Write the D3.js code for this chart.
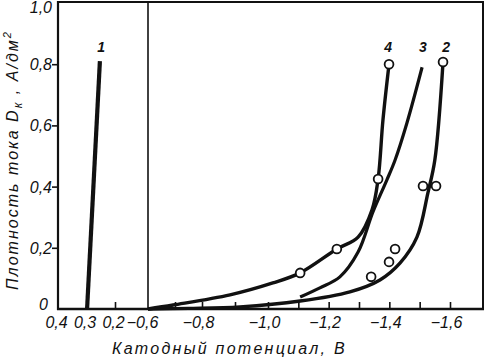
<!DOCTYPE html>
<html><head><meta charset="utf-8">
<script src="https://cdn.jsdelivr.net/npm/d3@7"></script>
<style>
html,body{margin:0;padding:0;background:#fff;}
svg{display:block;}
text{font-family:"Liberation Sans",Arial,sans-serif;font-style:italic;fill:#111;}
</style></head>
<body>
<svg id="c" width="486" height="361"></svg>
<script>
// ---- data ----
const yTicks = [0, 0.2, 0.4, 0.6, 0.8, 1.0];
const xLeftLabels = [0.4, 0.3, 0.2];
const xLeftTicks = [0.3, 0.2];
const xRightLabels = [-0.6, -0.8, -1.0, -1.2, -1.4, -1.6];
const xRightTicks = [-0.7, -0.8, -0.9, -1.0, -1.1, -1.2, -1.3, -1.4, -1.5, -1.6];

const curve1V = [0.298, 0.253];
const curve1J = [0.0, 0.81];

const curve2V = [-0.60, -0.75, -0.915, -1.106, -1.27, -1.369, -1.435, -1.491, -1.527, -1.55, -1.577];
const curve2J = [0.0, 0.002, 0.007, 0.026, 0.056, 0.095, 0.150, 0.235, 0.379, 0.487, 0.807];

const curve3V = [-1.106, -1.171, -1.237, -1.297, -1.346, -1.392, -1.419, -1.458, -1.508];
const curve3J = [0.039, 0.069, 0.105, 0.186, 0.317, 0.422, 0.487, 0.608, 0.79];

const curve4V = [-0.60, -0.693, -0.885, -1.016, -1.106, -1.227, -1.297, -1.343, -1.363, -1.379, -1.399];
const curve4J = [0.0, 0.013, 0.046, 0.085, 0.118, 0.196, 0.235, 0.324, 0.425, 0.618, 0.80];

const pts4V = [-1.106, -1.227, -1.363, -1.399];
const pts4J = [0.118, 0.196, 0.425, 0.80];
const pts2V = [-1.577, -1.511, -1.554, -1.419, -1.399, -1.34];
const pts2J = [0.807, 0.402, 0.402, 0.196, 0.154, 0.105];

const curveLabels = ["4", "3", "2"];
const curveLabelV = [-1.396, -1.511, -1.587];
const curve1Label = "1";
const curve1LabelV = 0.249;
const labelJ = 0.855;

// ---- layout ----
const svg = d3.select("#c");
const L = 58, R = 483, T = 3, B = 309, BRK = 148;
const y = d3.scaleLinear().domain([0, 1]).range([B, T]);
const xl = d3.scaleLinear().domain([0.4, 0.2]).range([L, 115]);
const xr = d3.scaleLinear().domain([-0.6, -0.8, -1.0, -1.6]).range([BRK, 202, 268, 450]);
const fmt = v => (v < 0 ? "\u2212" : "") + Math.abs(v).toFixed(v === 0 ? 0 : 1).replace(".", ",");

// frame
const fr = svg.append("g").attr("fill", "none").attr("stroke", "#111");
fr.append("line").attr("x1", L).attr("x2", R).attr("y1", T - 1).attr("y2", T - 1).attr("stroke-width", 2);
fr.append("line").attr("x1", R).attr("x2", R).attr("y1", T - 2).attr("y2", B).attr("stroke-width", 2);
fr.append("line").attr("x1", L).attr("x2", L).attr("y1", T - 2).attr("y2", B + 1).attr("stroke-width", 2.2);
fr.append("line").attr("x1", L - 1).attr("x2", R + 1).attr("y1", B).attr("y2", B).attr("stroke-width", 2.4);
fr.append("line").attr("x1", BRK).attr("x2", BRK).attr("y1", T - 2).attr("y2", B).attr("stroke-width", 1.6);

// y axis
const ya = svg.append("g").attr("transform", `translate(${L},0)`)
  .call(d3.axisLeft(y).tickValues(yTicks).tickSize(6).tickPadding(5).tickFormat(fmt));
ya.select(".domain").remove();
ya.selectAll(".tick line").attr("stroke", "#111").attr("stroke-width", 1.6)
  .filter(d => d === 0 || d === 1).remove();
ya.selectAll("text").attr("font-size", 16).attr("font-family", null).attr("fill", "#111")
  .attr("dy", d => d === 1 ? "0.62em" : (d === 0 ? "0.05em" : "0.34em"))
  .attr("x", d => (d === 0 ? -10 : -6));

// x axes
function styleX(g) {
  g.select(".domain").remove();
  g.selectAll(".tick line").attr("stroke", "#111").attr("stroke-width", 1.6);
  g.selectAll("text").attr("font-size", 16).attr("font-family", null).attr("fill", "#111");
}
const xa1 = svg.append("g").attr("transform", `translate(0,${B})`)
  .call(d3.axisBottom(xl).tickValues(xLeftTicks).tickSize(-7).tickFormat(""));
styleX(xa1);
const xa1l = svg.append("g").attr("transform", `translate(0,${B})`)
  .call(d3.axisBottom(xl).tickValues(xLeftLabels).tickSize(0).tickPadding(8).tickFormat(fmt));
styleX(xa1l); xa1l.selectAll(".tick line").remove();
xa1l.selectAll("text").attr("dx", -2);

const xa2 = svg.append("g").attr("transform", `translate(0,${B})`)
  .call(d3.axisBottom(xr).tickValues(xRightTicks).tickSize(-7).tickFormat(""));
styleX(xa2);
const xa2l = svg.append("g").attr("transform", `translate(0,${B})`)
  .call(d3.axisBottom(xr).tickValues(xRightLabels).tickSize(0).tickPadding(8).tickFormat(fmt));
styleX(xa2l); xa2l.selectAll(".tick line").remove();
xa2l.selectAll("text").attr("dx", d => d === -0.6 ? -6 : -4);

// curves
const lineR = d3.line().x(d => xr(d[0])).y(d => y(d[1])).curve(d3.curveCatmullRom.alpha(0.5));
const lineL = d3.line().x(d => xl(d[0])).y(d => y(d[1]));
const zip = (a, b) => a.map((v, i) => [v, b[i]]);
const cg = svg.append("g").attr("fill", "none").attr("stroke", "#111").attr("stroke-linecap", "butt");
cg.append("path").attr("d", lineL(zip(curve1V, curve1J))).attr("stroke-width", 4.2);
cg.append("path").attr("d", lineR(zip(curve2V, curve2J))).attr("stroke-width", 3.4);
cg.append("path").attr("d", lineR(zip(curve3V, curve3J))).attr("stroke-width", 3.2);
cg.append("path").attr("d", lineR(zip(curve4V, curve4J))).attr("stroke-width", 3.4);

// markers
svg.append("g").selectAll("circle")
  .data(zip(pts4V, pts4J).concat(zip(pts2V, pts2J)))
  .join("circle")
  .attr("cx", d => xr(d[0])).attr("cy", d => y(d[1])).attr("r", 4.4)
  .attr("fill", "#fff").attr("stroke", "#111").attr("stroke-width", 1.8);

// curve labels
const lg = svg.append("g").attr("font-size", 14).attr("text-anchor", "middle").attr("font-weight", "bold");
lg.selectAll("text").data(curveLabels).join("text")
  .attr("x", (d, i) => xr(curveLabelV[i])).attr("y", y(labelJ)).attr("dy", "0.35em").text(d => d);
lg.append("text").attr("x", xl(curve1LabelV)).attr("y", y(labelJ)).attr("dy", "0.35em").text(curve1Label);

// axis titles
const xt = svg.append("text").attr("x", 112).attr("y", 354).attr("font-size", 16)
  .text("Катодный потенциал, В");
const xtLen = xt.node().getComputedTextLength();
xt.attr("letter-spacing", ((235 - xtLen) / 21).toFixed(2) + "px");

const yt = svg.append("text").attr("transform", "translate(18,160) rotate(-90)")
  .attr("text-anchor", "middle").attr("font-size", 16);
yt.append("tspan").text("Плотность тока D");
yt.append("tspan").attr("font-size", 12).attr("dy", 4).text("к");
yt.append("tspan").attr("dy", -4).text(" , А/дм");
yt.append("tspan").attr("font-size", 11).attr("dy", -7).text("2");
const ytLen = yt.node().getComputedTextLength();
yt.attr("letter-spacing", ((260 - ytLen) / 25).toFixed(2) + "px");
</script>
</body></html>
